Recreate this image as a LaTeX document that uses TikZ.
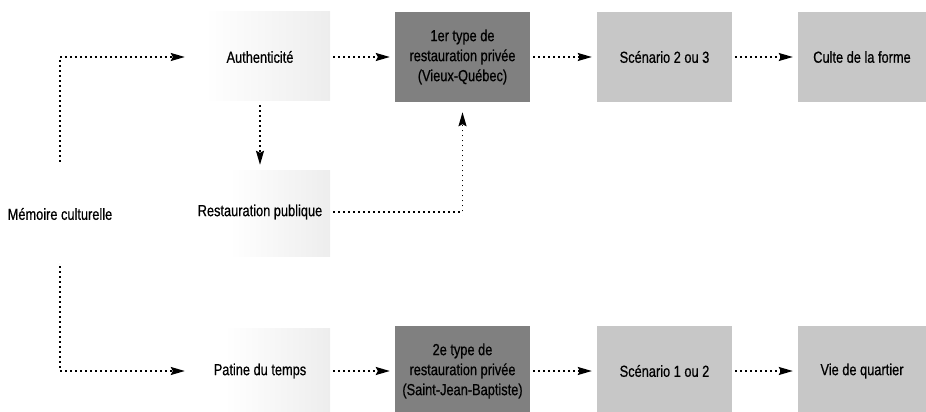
\documentclass[tikz,border=0pt]{standalone}
\usepackage{fontspec}
\setmainfont{Liberation Sans}[FakeStretch=0.8,FakeBold=0.6]
\usetikzlibrary{arrows.meta}
\begin{document}
\begin{tikzpicture}[x=1pt,y=-1pt,
  every node/.style={font=\fontsize{16}{20}\selectfont, align=center, inner sep=0pt},
  lbl/.style={minimum width=140pt},
  darkbox/.style={fill=black!50, minimum width=135pt, minimum height=90pt},
  lightbox/.style={fill=black!22, minimum width=135pt, minimum height=90pt},
  flow/.style={line width=1.5pt, dash pattern=on 1.5pt off 3.5pt,
    -{Stealth[length=14pt,width=8pt,inset=2pt]}, shorten <=3pt, shorten >=5pt},
  faint/.style={left color=white, right color=black!7}
]
\useasboundingbox (0,0) rectangle (926,412);
% faint speckled backgrounds
\fill[faint] (205,12) rectangle (330,100);
\fill[faint] (230,170) rectangle (330,256);
\fill[faint] (225,328) rectangle (330,412);

\node[minimum height=104pt] (mem) at (60,214) {Mémoire culturelle};
\node[lbl, minimum height=90pt] (auth) at (260,57) {Authenticité};
\node[lbl, minimum height=84pt] (rest) at (260,212) {Restauration publique};
\node[lbl, minimum height=84pt] (pat) at (260,371) {Patine du temps};

\node[darkbox] (t1) at (462.5,57) {1er type de\\restauration privée\\(Vieux-Québec)};
\node[lightbox] (s23) at (664.5,57) {Scénario 2 ou 3};
\node[lightbox, minimum width=128pt] (cult) at (862,57) {Culte de la forme};

\node[darkbox] (t2) at (462.5,371) {2e type de\\restauration privée\\(Saint-Jean-Baptiste)};
\node[lightbox] (s12) at (664.5,371) {Scénario 1 ou 2};
\node[lightbox, minimum width=128pt] (vie) at (862,371) {Vie de quartier};

\draw[flow, shorten <=0pt] (mem.north) |- (auth.west);
\draw[flow, shorten <=0pt] (mem.south) |- (pat.west);
\draw[flow] (auth.east) -- (t1.west);
\draw[flow] (auth.south) -- (rest.north);
\draw[flow, shorten >=10pt] (rest.east) -| (t1.south);
\draw[flow] (t1.east) -- (s23.west);
\draw[flow] (s23.east) -- (cult.west);
\draw[flow] (pat.east) -- (t2.west);
\draw[flow] (t2.east) -- (s12.west);
\draw[flow] (s12.east) -- (vie.west);
\end{tikzpicture}
\end{document}
